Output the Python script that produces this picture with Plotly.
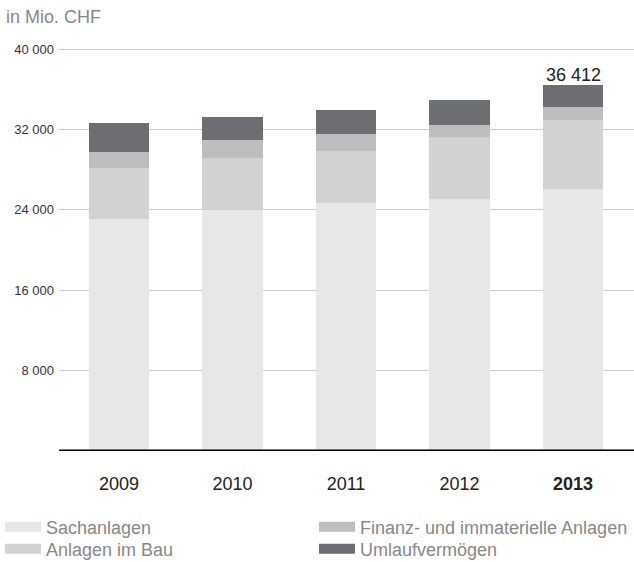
import plotly.graph_objects as go

years = ["2009", "2010", "2011", "2012", "2013"]
year_labels = ["2009", "2010", "2011", "2012", "<b>2013</b>"]
sachanlagen = [23085, 23980, 24680, 25075, 26070]
anlagen_im_bau = [5075, 5170, 5170, 6165, 6865]
finanz_immat = [1590, 1795, 1690, 1200, 1295]
umlauf = [2890, 2285, 2390, 2485, 2182]
total_label = "36 412"

tick_vals = [8000, 16000, 24000, 32000, 40000]
tick_text = ["8 000", "16 000", "24 000", "32 000", "40 000"]

series = [
    ("Sachanlagen", sachanlagen, "#e6e7e8"),
    ("Anlagen im Bau", anlagen_im_bau, "#d1d2d4"),
    ("Finanz- und immaterielle Anlagen", finanz_immat, "#bcbdbf"),
    ("Umlaufvermögen", umlauf, "#6d6e71"),
]
# legend grid: (column x in paper, row y in paper)
legend_pos = [(-0.1026, -0.140), (-0.1026, -0.1934), (0.4435, -0.140), (0.4435, -0.1934)]

xpos = list(range(len(years)))
fig = go.Figure()
for name, vals, col in series:
    fig.add_trace(go.Bar(x=xpos, y=vals, name=name, marker=dict(color=col, line=dict(width=0)),
                         width=0.53, showlegend=False, hoverinfo="skip"))
# legend entries (wide flat swatches like the reference)
for i, (name, vals, col) in enumerate(series):
    leg = "legend" if i == 0 else f"legend{i + 1}"
    fig.add_trace(go.Scatter(x=[None], y=[None], mode="lines", name=name,
                             line=dict(color=col, width=10), legend=leg, hoverinfo="skip"))

font = "Liberation Sans, Arial, sans-serif"
legfont = dict(size=18, color="#888888")
legends = {}
for i, (lx, ly) in enumerate(legend_pos):
    key = "legend" if i == 0 else f"legend{i + 1}"
    legends[key] = dict(orientation="v", x=lx, xanchor="left", y=ly, yanchor="top",
                        font=legfont, itemclick=False, itemdoubleclick=False,
                        bgcolor="rgba(0,0,0,0)", borderwidth=0, itemwidth=36)

fig.update_layout(
    barmode="stack",
    width=634, height=562,
    margin=dict(l=59, r=0, t=40, b=111, autoexpand=False),
    paper_bgcolor="white", plot_bgcolor="white",
    font=dict(family=font, size=13, color="#333333"),
    xaxis=dict(range=[-0.5286, 4.537], tickvals=xpos, ticktext=year_labels, showgrid=False,
               zeroline=False, showline=False, ticks="", tickfont=dict(size=18, color="#222222"),
               ticklabelstandoff=20),
    yaxis=dict(range=[0, 40896], tickvals=tick_vals, ticktext=tick_text, showgrid=True,
               gridcolor="#cccccc", gridwidth=1, zeroline=False, showline=False, ticks="",
               tickfont=dict(size=13, color="#333333"), ticklabelstandoff=4),
    showlegend=True,
    annotations=[
        dict(text="in Mio. CHF", x=0, xref="paper", xshift=-55, y=1, yref="paper", yshift=35,
             xanchor="left", yanchor="top", showarrow=False, font=dict(size=18, color="#888888")),
        dict(text=total_label, x=4, y=sum(v[4] for _, v, _ in series), xref="x", yref="y",
             yanchor="bottom", showarrow=False, yshift=-2, font=dict(size=18, color="#222222")),
    ],
    shapes=[dict(type="line", xref="paper", yref="y", x0=0, x1=1, y0=0, y1=0,
                 line=dict(color="black", width=3))],
    **legends,
)

fig.write_html("out.html", config={"displayModeBar": False},
               post_script="document.body.style.margin='0';document.body.style.overflow='hidden';")
